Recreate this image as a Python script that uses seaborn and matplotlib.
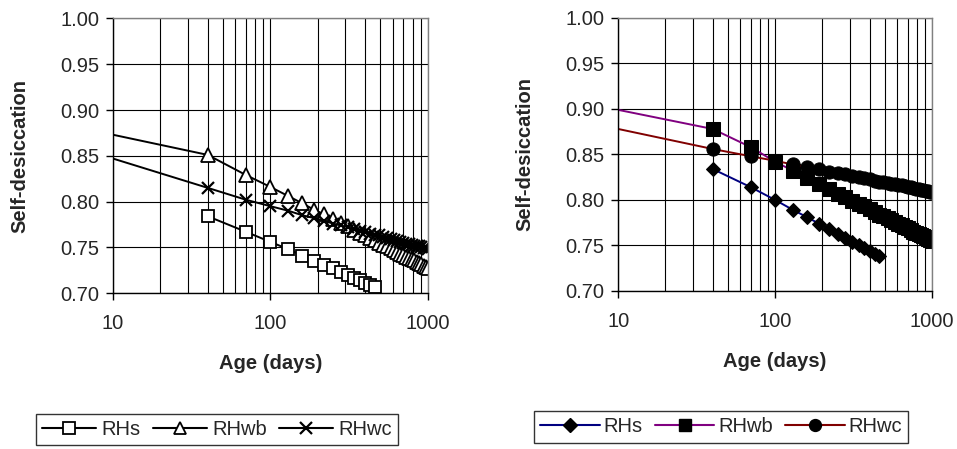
import numpy as np
import pandas as pd
import matplotlib
matplotlib.use('Agg')
import matplotlib.pyplot as plt
import seaborn as sns
from matplotlib.lines import Line2D
from matplotlib.ticker import LogLocator, FixedLocator, NullFormatter

# ── DATA ─────────────────────────────────────────────────────
# age in days; first point (10) has no marker, markers every 30 days from 40
age_long = [10, 40, 70, 100, 130, 160, 190, 220, 250, 280, 310, 340, 370, 400,
            430, 460, 490, 520, 550, 580, 610, 640, 670, 700, 730, 760, 790,
            820, 850, 880, 910, 940, 970, 1000]
age_short = [40, 70, 100, 130, 160, 190, 220, 250, 280, 310, 340, 370, 400,
             430, 460]

# left panel
left_rhs = [0.784, 0.767, 0.756, 0.748, 0.741, 0.735, 0.731, 0.727, 0.723,
            0.720, 0.717, 0.714, 0.711, 0.709, 0.707]
left_rhwb = [0.873, 0.851, 0.829, 0.816, 0.806, 0.798, 0.791, 0.786, 0.781,
             0.777, 0.773, 0.769, 0.766, 0.763, 0.760, 0.758, 0.755, 0.753,
             0.751, 0.749, 0.747, 0.745, 0.743, 0.742, 0.740, 0.738, 0.737,
             0.736, 0.734, 0.733, 0.732, 0.730, 0.729, 0.728]
left_rhwc = [0.847, 0.815, 0.802, 0.795, 0.790, 0.785, 0.782, 0.779, 0.776,
             0.774, 0.772, 0.770, 0.768, 0.767, 0.765, 0.764, 0.763, 0.761,
             0.760, 0.759, 0.758, 0.757, 0.756, 0.755, 0.754, 0.754, 0.753,
             0.752, 0.751, 0.751, 0.750, 0.749, 0.749, 0.748]

# right panel
right_rhs = [0.834, 0.814, 0.800, 0.789, 0.781, 0.774, 0.768, 0.763, 0.758,
             0.754, 0.750, 0.747, 0.744, 0.741, 0.738]
right_rhwb = [0.899, 0.878, 0.858, 0.842, 0.832, 0.824, 0.818, 0.812, 0.807,
              0.803, 0.799, 0.796, 0.793, 0.790, 0.787, 0.784, 0.782, 0.780,
              0.778, 0.776, 0.774, 0.772, 0.770, 0.769, 0.767, 0.765, 0.764,
              0.763, 0.761, 0.760, 0.759, 0.757, 0.756, 0.755]
right_rhwc = [0.878, 0.856, 0.848, 0.843, 0.839, 0.836, 0.834, 0.831, 0.830,
              0.828, 0.826, 0.825, 0.824, 0.823, 0.821, 0.820, 0.820, 0.819,
              0.818, 0.817, 0.816, 0.816, 0.815, 0.814, 0.814, 0.813, 0.812,
              0.812, 0.811, 0.811, 0.810, 0.810, 0.809, 0.809]

series_names = ['RHs', 'RHwb', 'RHwc']
y_ticks = [0.70, 0.75, 0.80, 0.85, 0.90, 0.95, 1.00]

# ── STYLE ────────────────────────────────────────────────────
sns.set_style('white')
plt.rcParams['font.family'] = ['Liberation Sans', 'DejaVu Sans']
FS = 14.5

fig = plt.figure(figsize=(9.57, 4.49), dpi=100)
ax_l = fig.add_axes([0.118, 0.347, 0.329, 0.612])
ax_r = fig.add_axes([0.646, 0.352, 0.328, 0.608])

left_style = [
    dict(marker='s', mfc='white', mec='black', ms=9, mew=1.3, color='black'),
    dict(marker='^', mfc='white', mec='black', ms=9.5, mew=1.3, color='black'),
    dict(marker='x', mfc='none', mec='black', ms=9, mew=1.6, color='black'),
]
right_style = [
    dict(marker='D', mfc='black', mec='black', ms=7.5, color='#000080'),
    dict(marker='s', mfc='black', mec='black', ms=9.5, color='#800080'),
    dict(marker='o', mfc='black', mec='black', ms=9.5, color='#800000'),
]


def draw_panel(ax, rhs, rhwb, rhwc, styles):
    data = [(age_short, rhs, 0), (age_long, rhwb, 1), (age_long, rhwc, 1)]
    for (xs, ys, skip), st in zip(data, styles):
        sns.lineplot(x=xs, y=ys, ax=ax, lw=1.4, markevery=slice(skip, None),
                     sort=False, estimator=None, **st)

    ax.set_xscale('log')
    ax.set_xlim(10, 1000)
    ax.set_ylim(0.70, 1.00)
    ax.set_yticks(y_ticks)
    ax.set_yticklabels([f'{v:.2f}' for v in y_ticks])
    ax.xaxis.set_major_locator(FixedLocator([10, 100, 1000]))
    ax.set_xticklabels(['10', '100', '1000'])
    ax.xaxis.set_minor_locator(LogLocator(base=10, subs=np.arange(2, 10)))
    ax.xaxis.set_minor_formatter(NullFormatter())

    ax.grid(True, which='major', axis='both', color='black', lw=0.8)
    ax.grid(True, which='minor', axis='x', color='black', lw=0.8)
    ax.set_axisbelow(True)

    for side in ['top', 'right']:
        ax.spines[side].set_color('#808080')
        ax.spines[side].set_linewidth(1.0)
    for side in ['left', 'bottom']:
        ax.spines[side].set_color('black')
        ax.spines[side].set_linewidth(1.0)

    ax.tick_params(axis='both', which='major', direction='out', length=5,
                   width=1, color='black', labelsize=FS, pad=5,
                   bottom=True, left=True)
    ax.tick_params(axis='x', which='minor', length=0)
    ax.tick_params(axis='x', which='major', pad=10)

    ax.set_xlabel('Age (days)', fontsize=FS, fontweight='bold', labelpad=15)
    ax.set_ylabel('Self-desiccation', fontsize=FS, fontweight='bold',
                  labelpad=22)
    if ax.get_legend() is not None:
        ax.get_legend().remove()


draw_panel(ax_l, left_rhs, left_rhwb, left_rhwc, left_style)
draw_panel(ax_r, right_rhs, right_rhwb, right_rhwc, right_style)


def make_legend(styles, center, hlen, textpad):
    handles = []
    for st in styles:
        s = dict(st)
        s['ms'] = s['ms'] * 0.9
        handles.append(Line2D([0], [0], lw=1.5, **s))
    leg = fig.legend(handles, series_names, loc='center',
                     bbox_to_anchor=center, ncol=3, frameon=True,
                     fancybox=False, edgecolor='black', fontsize=FS,
                     handlelength=hlen, handletextpad=textpad,
                     columnspacing=0.6, borderpad=0.3, borderaxespad=0)
    leg.get_frame().set_linewidth(1.0)


make_legend(left_style, (0.2267, 0.044), 2.7, 0.25)
make_legend(right_style, (0.7536, 0.049), 2.95, 0.2)

fig.savefig('out.png', dpi=100)
